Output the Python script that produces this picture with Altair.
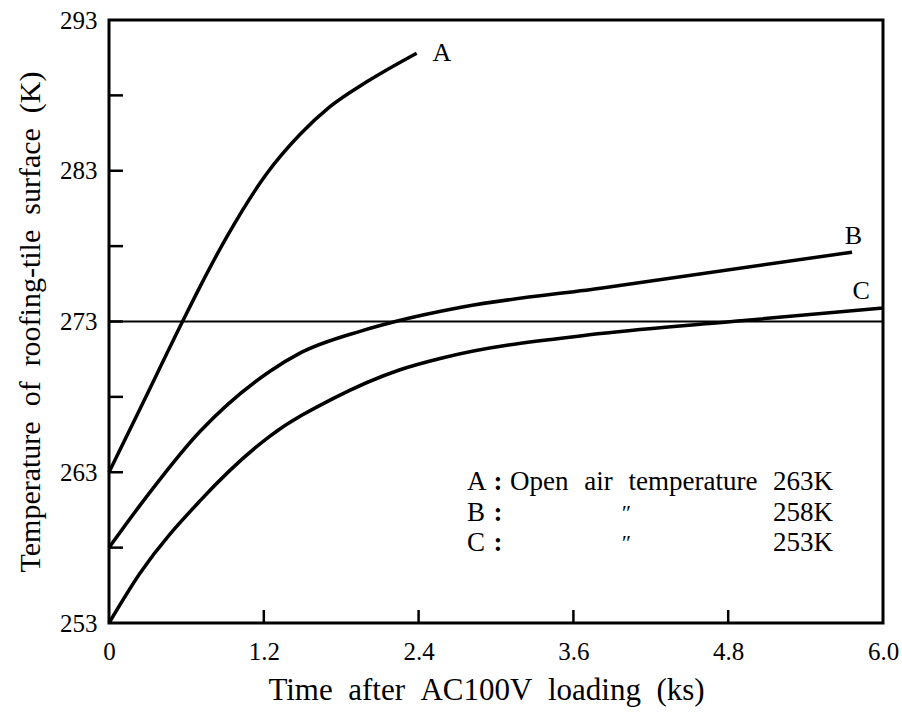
import altair as alt
import pandas as pd

FONT = "'Liberation Serif', 'Times New Roman', Tinos, 'DejaVu Serif', serif"

# ---- data ----
A_t = [0, 0.24, 0.57, 0.705, 0.912, 1.222, 1.48, 1.713, 1.998, 2.385]
A_T = [263, 267.2, 273.0, 275.3, 278.6, 282.8, 285.4, 287.25, 288.9, 290.8]

B_t = [0, 0.24, 0.705, 1.248, 1.48, 1.946, 2.22, 2.74, 3.81, 5.76]
B_T = [258, 260.8, 265.7, 269.7, 270.9, 272.35, 273.0, 273.96, 275.2, 277.6]

C_t = [0, 0.24, 0.705, 1.248, 1.74, 2.256, 2.59, 3.81, 4.9, 6.0]
C_T = [253, 256.3, 261.1, 265.4, 267.9, 269.8, 270.6, 272.2, 273.05, 273.9]

freezing_T = [273]

x_label_values = [0, 1.2, 2.4, 3.6, 4.8, 6.0]
x_tick_values = [1.2, 2.4, 3.6, 4.8]
y_label_values = [253, 263, 273, 283, 293]
y_tick_values = [258, 263, 268, 273, 278, 283, 288]

curve_names = ["A", "B", "C"]
curve_label_t = [2.58, 5.77, 5.83]
curve_label_T = [290.8, 278.7, 275.0]

legend_letters = ["A", "B", "C"]
legend_desc = ["Open\u2002\u200aair\u2002\u200atemperature", "\u2033", "\u2033"]
legend_temps = ["263K", "258K", "253K"]
legend_row_T = [262.35, 260.3, 258.3]
legend_letter_t = 2.775
legend_colon_t = 3.016
legend_desc_t = 3.109
legend_ditto_t = 4.0
legend_temp_t = 5.147

x_title = "Time\u2002after\u2002AC100V\u2002loading\u2002(ks)"
y_title = "Temperature\u2002of\u2002roofing-tile\u2002surface\u2002(K)"

# ---- tables ----
rows = []
for name, ts, Ts in [("A", A_t, A_T), ("B", B_t, B_T), ("C", C_t, C_T)]:
    for t, T in zip(ts, Ts):
        rows.append({"series": name, "t": t, "T": T})
curves = pd.DataFrame(rows)

x_scale = alt.Scale(domain=[0, 6], nice=False, zero=False)
y_scale = alt.Scale(domain=[253, 293], nice=False, zero=False)

X = alt.X(
    "t:Q", scale=x_scale,
    axis=alt.Axis(
        values=x_label_values, ticks=False, domain=False, grid=False,
        labelFlush=False, labelOverlap=False, labelPadding=16,
        labelFont=FONT, labelFontSize=25, labelColor="black",
        labelExpr="datum.value == 0 ? '0' : format(datum.value, '.1f')",
        title=x_title, titleFont=FONT, titleFontSize=31, titleFontWeight="normal",
        titleColor="black", titleX=377, titleY=67, titleBaseline="middle",
        titleAlign="center",
    ),
)
Y = alt.Y(
    "T:Q", scale=y_scale,
    axis=alt.Axis(
        values=y_label_values, ticks=False, domain=False, grid=False,
        labelFlush=False, labelOverlap=False, labelPadding=12,
        labelFont=FONT, labelFontSize=25, labelColor="black",
        title=y_title, titleFont=FONT, titleFontSize=30, titleFontWeight="normal",
        titleColor="black", titleX=-79, titleY=301.5, titleAngle=270,
        titleBaseline="middle", titleAlign="center",
    ),
)

lines = alt.Chart(curves).mark_line(
    color="black", strokeWidth=3.5, interpolate="monotone"
).encode(x=X, y=Y, detail="series:N")

ref_line = alt.Chart(pd.DataFrame({"T": freezing_T})).mark_rule(
    color="black", strokeWidth=2
).encode(y=Y)

y_ticks = alt.Chart(pd.DataFrame({"T": y_tick_values})).mark_rule(
    color="black", strokeWidth=2.5
).encode(y=Y, x=alt.value(0), x2=alt.value(14))

x_ticks = alt.Chart(pd.DataFrame({"t": x_tick_values})).mark_rule(
    color="black", strokeWidth=2.5
).encode(x=X, y=alt.value(603), y2=alt.value(590))

curve_labels = alt.Chart(pd.DataFrame({
    "t": curve_label_t, "T": curve_label_T, "lab": curve_names
})).mark_text(font=FONT, fontSize=26, color="black", align="center",
              baseline="middle").encode(x=X, y=Y, text="lab:N")

leg_letters = alt.Chart(pd.DataFrame({
    "t": [legend_letter_t] * 3, "T": legend_row_T, "lab": legend_letters
})).mark_text(font=FONT, fontSize=27, color="black", align="left",
              baseline="middle").encode(x=X, y=Y, text="lab:N")

leg_colons = alt.Chart(pd.DataFrame({
    "t": [legend_colon_t] * 3, "T": legend_row_T, "lab": [":"] * 3
})).mark_text(font=FONT, fontSize=27, fontWeight="bold", color="black",
              align="center", baseline="middle").encode(x=X, y=Y, text="lab:N")

leg_desc = alt.Chart(pd.DataFrame({
    "t": [legend_desc_t], "T": legend_row_T[:1], "lab": legend_desc[:1]
})).mark_text(font=FONT, fontSize=27, color="black", align="left",
              baseline="middle").encode(x=X, y=Y, text="lab:N")

leg_ditto = alt.Chart(pd.DataFrame({
    "t": [legend_ditto_t] * 2, "T": legend_row_T[1:], "lab": legend_desc[1:]
})).mark_text(font=FONT, fontSize=22, fontStyle="italic", color="black",
              align="center", baseline="middle").encode(x=X, y=Y, text="lab:N")

leg_temps = alt.Chart(pd.DataFrame({
    "t": [legend_temp_t] * 3, "T": legend_row_T, "lab": legend_temps
})).mark_text(font=FONT, fontSize=27, color="black", align="left",
              baseline="middle").encode(x=X, y=Y, text="lab:N")

chart = alt.layer(
    ref_line, y_ticks, x_ticks, lines, curve_labels,
    leg_letters, leg_colons, leg_desc, leg_ditto, leg_temps,
).properties(
    width=774, height=603,
    padding={"left": 109, "top": 20, "right": 19, "bottom": 90},
    autosize=alt.AutoSizeParams(type="none"),
    background="white",
).configure_view(stroke="black", strokeWidth=3)

chart.save("out.html", embed_options={"renderer": "svg", "actions": False})
